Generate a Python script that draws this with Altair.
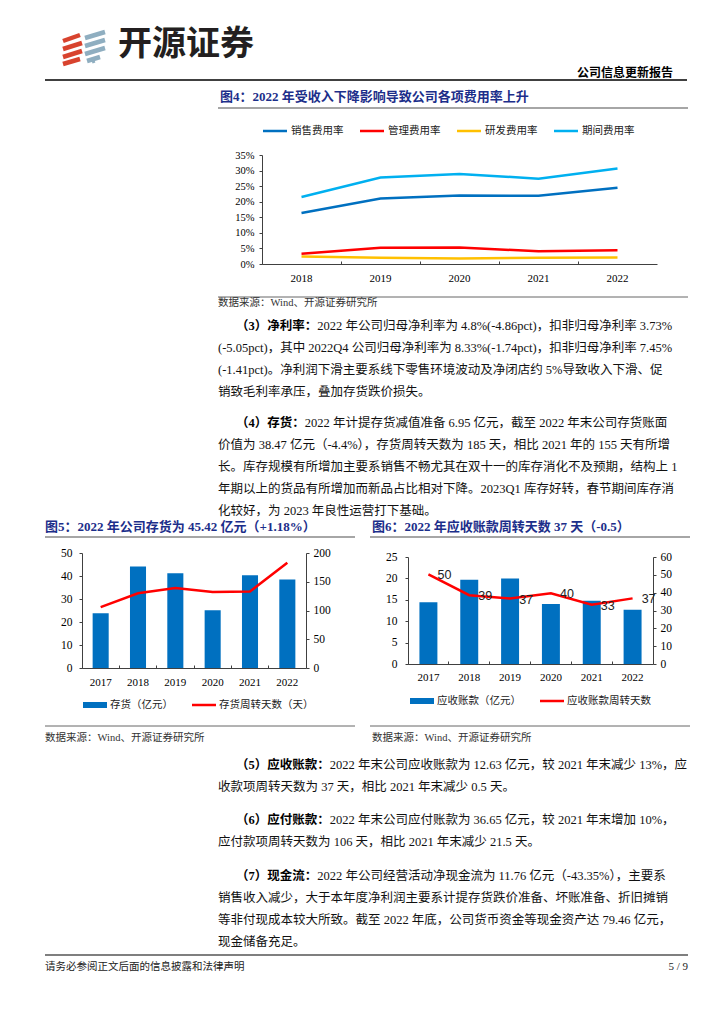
import altair as alt
import pandas as pd

W, H = 708, 1000

# ---------------- data ----------------
fee_years = ["2018", "2019", "2020", "2021", "2022"]
fee_series = ["销售费用率", "管理费用率", "研发费用率", "期间费用率"]
sales_fee_rate = [16.4, 21.0, 22.0, 21.9, 24.5]
admin_fee_rate = [3.3, 5.2, 5.3, 4.1, 4.4]
rd_fee_rate = [2.4, 2.0, 1.8, 2.0, 2.1]
period_fee_rate = [21.5, 27.8, 28.9, 27.4, 30.7]
fee_ticks = [0, 5, 10, 15, 20, 25, 30, 35]

bs_years = ["2017", "2018", "2019", "2020", "2021", "2022"]
inventory = [23.8, 44.1, 41.2, 25.1, 40.3, 38.5]
inventory_days = [106, 130, 139, 132, 133, 183]
inv_ticks = [0, 10, 20, 30, 40, 50]
inv_day_ticks = [0, 50, 100, 150, 200]

receivable = [14.4, 19.7, 20.0, 14.0, 14.8, 12.7]
receivable_days = [50.3, 38.6, 36.7, 39.7, 33.2, 36.8]
ar_ticks = [0, 5, 10, 15, 20, 25]
ar_day_ticks = [0, 10, 20, 30, 40, 50, 60]

# ---------------- texts ----------------
brand = "开源证券"
report_type = "公司信息更新报告"
fig4_title = "图4：2022 年受收入下降影响导致公司各项费用率上升"
fig5_title = "图5：2022 年公司存货为 45.42 亿元（+1.18%）"
fig6_title = "图6：2022 年应收账款周转天数 37 天（-0.5）"
source_text = "数据来源：Wind、开源证券研究所"
inv_legend = ["存货（亿元）", "存货周转天数（天）"]
ar_legend = ["应收账款（亿元）", "应收账款周转天数"]

para3_head = "（3）净利率："
para3 = [
    "2022 年公司归母净利率为 4.8%(-4.86pct)，扣非归母净利率 3.73%",
    "(-5.05pct)，其中 2022Q4 公司归母净利率为 8.33%(-1.74pct)，扣非归母净利率 7.45%",
    "(-1.41pct)。净利润下滑主要系线下零售环境波动及净闭店约 5%导致收入下滑、促",
    "销致毛利率承压，叠加存货跌价损失。",
]
para4_head = "（4）存货："
para4 = [
    "2022 年计提存货减值准备 6.95 亿元，截至 2022 年末公司存货账面",
    "价值为 38.47 亿元（-4.4%），存货周转天数为 185 天，相比 2021 年的 155 天有所增",
    "长。库存规模有所增加主要系销售不畅尤其在双十一的库存消化不及预期，结构上 1",
    "年期以上的货品有所增加而新品占比相对下降。2023Q1 库存好转，春节期间库存消",
    "化较好，为 2023 年良性运营打下基础。",
]
para5_head = "（5）应收账款："
para5 = [
    "2022 年末公司应收账款为 12.63 亿元，较 2021 年末减少 13%，应",
    "收款项周转天数为 37 天，相比 2021 年末减少 0.5 天。",
]
para6_head = "（6）应付账款："
para6 = [
    "2022 年末公司应付账款为 36.65 亿元，较 2021 年末增加 10%，",
    "应付款项周转天数为 106 天，相比 2021 年末减少 21.5 天。",
]
para7_head = "（7）现金流："
para7 = [
    "2022 年公司经营活动净现金流为 11.76 亿元（-43.35%），主要系",
    "销售收入减少，大于本年度净利润主要系计提存货跌价准备、坏账准备、折旧摊销",
    "等非付现成本较大所致。截至 2022 年底，公司货币资金等现金资产达 79.46 亿元，",
    "现金储备充足。",
]
footer_left = "请务必参阅正文后面的信息披露和法律声明"
footer_right = "5 / 9"

# ---------------- styles ----------------
SERIF = "Liberation Serif, Noto Sans CJK SC"
CJK = "Noto Sans CJK SC"
SANS = "Liberation Sans, Arial"
BLUE = "#0070C0"
RED = "#FF0000"
GOLD = "#FFC000"
SKY = "#00B0F0"
NAVY = "#1C2E8A"
TXT = "#111111"
BODY = 12.5

one = alt.Data(values=[{"k": 0}])


def txt(x, y, s, size=BODY, bold=False, color=TXT, align="left", font=SERIF):
    kw = dict(align=align, baseline="middle", font=font, fontSize=size, color=color)
    if bold:
        kw["fontWeight"] = "bold"
    return alt.Chart(one).mark_text(**kw).encode(
        x=alt.value(x), y=alt.value(y), text=alt.value(s)
    )


def rule(x1, y1, x2, y2, color, width):
    return alt.Chart(one).mark_rule(color=color, strokeWidth=width).encode(
        x=alt.value(x1), y=alt.value(y1), x2=alt.value(x2), y2=alt.value(y2)
    )


def rect(x1, y1, x2, y2, color):
    return alt.Chart(one).mark_rect(color=color).encode(
        x=alt.value(x1), y=alt.value(y1), x2=alt.value(x2), y2=alt.value(y2)
    )


def est_width(s, size):
    lat = {" ": 0.25, ".": 0.25, "%": 0.833, "(": 0.333, ")": 0.333, "-": 0.333}
    w = 0.0
    for c in s:
        if ord(c) > 0x2E80:
            w += 1.0
        else:
            w += lat.get(c, 0.5)
    return w * size


layers = []

# ---------------- header ----------------
for (a, b, c, d) in [(55, 33, 72, 27), (55, 41, 74, 35), (55, 49, 74, 43), (55, 56, 72, 51)]:
    layers.append(rule(a, b, c, d, "#D8432E", 4.5))
for (a, b, c, d) in [(77, 30, 97, 24), (77, 38, 97, 32), (77, 46, 97, 40), (79, 53, 92, 49)]:
    layers.append(rule(a, b, c, d, "#8FAEC0", 4.5))
layers.append(rule(84, 50, 86, 55, "#8FAEC0", 3))
layers.append(txt(110, 37, brand, size=34, bold=True, color="#231F20", font=CJK))
layers.append(txt(665, 65, report_type, size=12, bold=True, color="#000", align="right", font=CJK))
layers.append(rule(37, 72, 679, 72, "#000", 1.5))

# ---------------- figure 4 ----------------
layers.append(txt(212, 89, fig4_title, size=13, bold=True, color=NAVY))
layers.append(rule(210, 100, 680, 100, "#A6A6A6", 2))

legend_x = [255, 352, 449, 546]
colors4 = [BLUE, RED, GOLD, SKY]
for lx, name, col in zip(legend_x, fee_series, colors4):
    layers.append(rule(lx, 123, lx + 24, 123, col, 2.5))
    layers.append(txt(lx + 28, 123, name, size=10.5, color="#222", font=CJK))

df_fee = pd.DataFrame(
    [
        {"year": y, "series": s, "rate": v}
        for s, vals in zip(fee_series, [sales_fee_rate, admin_fee_rate, rd_fee_rate, period_fee_rate])
        for y, v in zip(fee_years, vals)
    ]
)
X1 = [254, 649]
Y1 = [256, 147]
x1_scale = alt.Scale(type="band", domain=fee_years, range=X1, paddingInner=0, paddingOuter=0)
y1_scale = alt.Scale(domain=[0, 35], range=Y1, nice=False, zero=True)

fee_lines = alt.Chart(df_fee).mark_line(strokeWidth=2.5).encode(
    x=alt.X(
        "year:O",
        scale=x1_scale,
        title=None,
        axis=alt.Axis(orient="bottom", offset=Y1[0] - H, ticks=False, bandPosition=0.5,
                      labelPadding=8, labelAngle=0),
    ),
    y=alt.Y(
        "rate:Q",
        scale=y1_scale,
        title=None,
        axis=alt.Axis(orient="left", offset=-X1[0], values=fee_ticks, labelExpr="datum.value + '%'",
                      tickSize=3, labelPadding=5, labelFontSize=10.5),
    ),
    color=alt.Color("series:N", scale=alt.Scale(domain=fee_series, range=colors4), legend=None),
)
fee_ticks_layer = alt.Chart(df_fee).mark_line(strokeOpacity=0).encode(
    x=alt.X(
        "year:O",
        scale=x1_scale,
        title=None,
        axis=alt.Axis(orient="top", offset=-Y1[0], labels=False, domain=False, tickSize=3, bandPosition=0),
    ),
    y=alt.Y("rate:Q", scale=y1_scale, axis=None),
    detail="series:N",
)
layers += [fee_ticks_layer, fee_lines]

layers.append(rule(210, 289, 680, 289, "#404040", 0.8))
layers.append(txt(210, 295, source_text, size=10.5, color="#333"))


# ---------------- paragraphs ----------------
def paragraph(head, lines, y0, head_x=228, body_x=210, lh=22):
    out = [txt(head_x, y0, head, bold=True, color="#000")]
    out.append(txt(head_x + est_width(head, BODY), y0, lines[0]))
    for i, line in enumerate(lines[1:], start=1):
        out.append(txt(body_x, y0 + i * lh, line))
    return out


layers += paragraph(para3_head, para3, 318)
layers += paragraph(para4_head, para4, 415)

# ---------------- figure 5 & 6 titles ----------------
layers.append(txt(37, 519, fig5_title, size=13, bold=True, color=NAVY))
layers.append(rule(37, 529, 347, 529, "#A6A6A6", 2))
layers.append(txt(364, 519, fig6_title, size=13, bold=True, color=NAVY))
layers.append(rule(362, 529, 682, 529, "#A6A6A6", 2))

# ---------------- figure 5 ----------------
df_inv = pd.DataFrame({"year": bs_years, "value": inventory, "days": inventory_days})
X5 = [74, 298]
Y5 = [660, 545]
inv_bars = alt.Chart(df_inv).mark_bar(color=BLUE).encode(
    x=alt.X(
        "year:O",
        title=None,
        scale=alt.Scale(type="band", domain=bs_years, range=X5, paddingInner=0.57, paddingOuter=0.285),
        axis=alt.Axis(orient="bottom", offset=Y5[0] - H, ticks=False, bandPosition=0.5, labelPadding=8,
                      labelAngle=0),
    ),
    y=alt.Y(
        "value:Q",
        title=None,
        scale=alt.Scale(domain=[0, 50], range=Y5, nice=False),
        axis=alt.Axis(orient="left", offset=-X5[0], values=inv_ticks, tickSize=3, labelPadding=7,
                      labelFontSize=11.5),
    ),
)
inv_line = alt.Chart(df_inv).mark_line(color=RED, strokeWidth=2.5).encode(
    x=alt.X(
        "year:O",
        title=None,
        scale=alt.Scale(type="band", domain=bs_years, range=X5, paddingInner=0, paddingOuter=0),
        axis=alt.Axis(orient="top", offset=-Y5[0], labels=False, domain=False, tickSize=3, bandPosition=0),
    ),
    y=alt.Y(
        "days:Q",
        title=None,
        scale=alt.Scale(domain=[0, 200], range=Y5, nice=False),
        axis=alt.Axis(orient="right", offset=X5[1] - W, values=inv_day_ticks, tickSize=3, labelPadding=4,
                      labelFontSize=11.5),
    ),
)
layers += [inv_bars, inv_line]
layers.append(rect(75, 694, 99, 700, BLUE))
layers.append(txt(102, 697, inv_legend[0], size=10.5, color="#222", font=CJK))
layers.append(rule(184, 697, 208, 697, RED, 2.5))
layers.append(txt(211, 697, inv_legend[1], size=10.5, color="#222", font=CJK))
layers.append(rule(37, 718, 347, 718, "#404040", 0.8))
layers.append(txt(37, 730, source_text, size=10.5, color="#333"))

# ---------------- figure 6 ----------------
df_ar = pd.DataFrame({"year": bs_years, "value": receivable, "days": receivable_days})
X6 = [400, 645]
Y6 = [656, 549]
band6 = alt.Scale(type="band", domain=bs_years, range=X6, paddingInner=0, paddingOuter=0)
days6 = alt.Scale(domain=[0, 60], range=Y6, nice=False)
ar_bars = alt.Chart(df_ar).mark_bar(color=BLUE).encode(
    x=alt.X(
        "year:O",
        title=None,
        scale=alt.Scale(type="band", domain=bs_years, range=X6, paddingInner=0.56, paddingOuter=0.28),
        axis=alt.Axis(orient="bottom", offset=Y6[0] - H, ticks=False, bandPosition=0.5, labelPadding=7,
                      labelAngle=0),
    ),
    y=alt.Y(
        "value:Q",
        title=None,
        scale=alt.Scale(domain=[0, 25], range=Y6, nice=False),
        axis=alt.Axis(orient="left", offset=-X6[0], values=ar_ticks, tickSize=3, labelPadding=8,
                      labelFontSize=11.5),
    ),
)
ar_line = alt.Chart(df_ar).mark_line(color=RED, strokeWidth=2.5).encode(
    x=alt.X(
        "year:O",
        title=None,
        scale=band6,
        axis=alt.Axis(orient="top", offset=-Y6[0], labels=False, domain=False, tickSize=3, bandPosition=0),
    ),
    y=alt.Y(
        "days:Q",
        title=None,
        scale=days6,
        axis=alt.Axis(orient="right", offset=X6[1] - W, values=ar_day_ticks, tickSize=3, labelPadding=4,
                      labelFontSize=11.5),
    ),
)
ar_labels = alt.Chart(df_ar).mark_text(
    font=SANS, fontSize=12.5, color="#222", align="center", baseline="middle", dx=16, dy=1
).encode(
    x=alt.X("year:O", scale=band6, axis=None),
    y=alt.Y("days:Q", scale=days6, axis=None),
    text=alt.Text("days:Q", format=".0f"),
)
layers += [ar_bars, ar_line, ar_labels]
layers.append(rect(402, 690, 426, 696, BLUE))
layers.append(txt(429, 693, ar_legend[0], size=10.5, color="#222", font=CJK))
layers.append(rule(532, 693, 556, 693, RED, 2.5))
layers.append(txt(559, 693, ar_legend[1], size=10.5, color="#222", font=CJK))
layers.append(rule(362, 718, 682, 718, "#404040", 0.8))
layers.append(txt(364, 730, source_text, size=10.5, color="#333"))

# ---------------- lower paragraphs ----------------
layers += paragraph(para5_head, para5, 757)
layers += paragraph(para6_head, para6, 812)
layers += paragraph(para7_head, para7, 868)

# ---------------- footer ----------------
layers.append(rule(37, 947, 680, 947, "#7F7F7F", 2))
layers.append(txt(37, 959, footer_left, size=10.5, color="#222"))
layers.append(txt(680, 959, footer_right, size=11, color="#222", align="right"))

chart = (
    alt.layer(*layers)
    .resolve_scale(x="independent", y="independent", color="independent")
    .properties(width=W, height=H, padding=0, autosize="none")
    .configure_view(strokeWidth=0)
    .configure_axis(
        grid=False,
        labelFont=SERIF,
        labelFontSize=11,
        labelColor="#000",
        domainColor="#404040",
        tickColor="#404040",
        domainWidth=1,
        tickWidth=1,
    )
)

chart.save("out.html", embed_options={"renderer": "svg", "actions": False})
